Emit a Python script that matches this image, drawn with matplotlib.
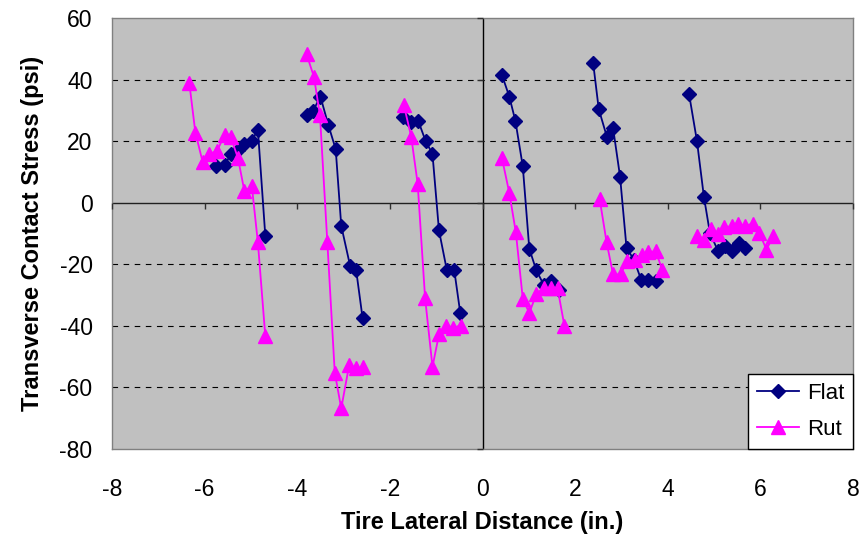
import numpy as np
import matplotlib
matplotlib.use("Agg")
import matplotlib.pyplot as plt

plt.rcParams['font.family'] = ['Liberation Sans', 'DejaVu Sans']
plt.rcParams['axes.unicode_minus'] = False

nan = np.nan
# Flat tire series (groups separated by NaN)
flat_x = [-5.75, -5.57, -5.43, -5.28, -5.14, -4.98, -4.85, -4.69, nan,
          -3.80, -3.66, -3.50, -3.33, -3.17, -3.05, -2.86, -2.73, -2.59, nan,
          -1.71, -1.54, -1.39, -1.23, -1.08, -0.94, -0.77, -0.61, -0.48, nan,
          0.42, 0.58, 0.71, 0.87, 1.01, 1.16, 1.32, 1.47, 1.65, nan,
          2.39, 2.51, 2.69, 2.82, 2.97, 3.11, 3.27, 3.43, 3.58, 3.74, nan,
          4.46, 4.63, 4.78, 4.91, 5.09, 5.24, 5.38, 5.53, 5.67]
flat_y = [11.8, 12.2, 15.8, 17.0, 19.1, 20.2, 23.7, -10.7, nan,
          28.5, 29.8, 34.5, 25.3, 17.4, -7.5, -20.4, -21.7, -37.4, nan,
          27.8, 26.3, 26.7, 20.1, 15.8, -9.0, -21.9, -21.9, -35.8, nan,
          41.5, 34.4, 26.6, 11.8, -14.9, -21.9, -26.6, -25.5, -28.2, nan,
          45.3, 30.4, 21.2, 24.2, 8.5, -14.7, -18.5, -25.2, -25.2, -25.5, nan,
          35.3, 20.1, 2.0, -9.8, -15.8, -13.9, -15.8, -13.1, -14.7]

# Rut series
rut_x = [-6.33, -6.20, -6.04, -5.90, -5.73, -5.57, -5.44, -5.28, -5.14, -4.98, -4.85, -4.69, nan,
         -3.80, -3.64, -3.51, -3.35, -3.19, -3.05, -2.88, -2.73, -2.58, nan,
         -1.70, -1.54, -1.40, -1.24, -1.08, -0.94, -0.79, -0.63, -0.47, nan,
         0.42, 0.58, 0.72, 0.87, 1.01, 1.16, 1.32, 1.47, 1.62, 1.77, nan,
         2.53, 2.68, 2.82, 2.98, 3.12, 3.29, 3.45, 3.58, 3.74, 3.88, nan,
         4.63, 4.78, 4.93, 5.09, 5.22, 5.38, 5.52, 5.67, 5.83, 5.98, 6.13, 6.28]
rut_y = [38.8, 22.8, 13.1, 15.8, 16.9, 22.0, 21.5, 14.5, 3.7, 5.3, -12.9, -43.3, nan,
         48.3, 40.9, 28.5, -12.9, -55.2, -66.8, -52.8, -53.8, -53.4, nan,
         31.8, 21.5, 6.2, -30.9, -53.3, -42.8, -40.1, -40.6, -39.9, nan,
         14.5, 3.1, -9.6, -31.2, -35.8, -29.8, -27.7, -27.7, -27.7, -40.1, nan,
         1.2, -12.9, -23.3, -23.3, -19.0, -18.5, -16.9, -16.0, -15.8, -21.7, nan,
         -10.7, -12.0, -8.7, -10.1, -7.9, -7.7, -6.8, -7.5, -6.8, -9.8, -15.2, -10.9]

x_ticks = [-8, -6, -4, -2, 0, 2, 4, 6, 8]
y_ticks = [-80, -60, -40, -20, 0, 20, 40, 60]

fig = plt.figure(figsize=(8.67, 5.39), dpi=100)
rect = [112/867, (539-449)/539, 741/867, 431/539]
ax = fig.add_axes(rect)
ax.set_facecolor('#C0C0C0')
for s in ax.spines.values():
    s.set_color('#808080')
    s.set_linewidth(1.0)

ax.set_xlim(-8, 8)
ax.set_ylim(-80, 60)
ax.set_xticks(x_ticks)
ax.set_yticks(y_ticks)
ax.tick_params(axis='both', length=0, labelsize=16.5)
ax.tick_params(axis='x', pad=21)
ax.tick_params(axis='y', pad=14)

for yv in [40, 20, -20, -40, -60]:
    ax.axhline(yv, color='black', lw=0.8, linestyle=(0, (5, 5)), zorder=1)

ax.axhline(0, color='#202020', lw=1.0, zorder=1)
ax.axvline(0, color='black', lw=1.0, zorder=1)

# tick marks on the zero axes via an overlay axes
ax2 = fig.add_axes(rect, sharex=ax, sharey=ax)
ax2.patch.set_visible(False)
for k in ['top', 'right']:
    ax2.spines[k].set_visible(False)
ax2.spines['left'].set_position(('data', 0))
ax2.spines['bottom'].set_position(('data', 0))
ax2.spines['left'].set_visible(False)
ax2.spines['bottom'].set_visible(False)
ax2.tick_params(axis='both', direction='out', length=4, width=1, color='#303030',
                labelbottom=False, labelleft=False)

ax.plot(flat_x, flat_y, color='#000080', lw=1.3, marker='D', markersize=7.5,
        markerfacecolor='#000080', markeredgecolor='#000080', label='Flat', zorder=3)
ax.plot(rut_x, rut_y, color='#FF00FF', lw=1.3, marker='^', markersize=9.5,
        markerfacecolor='#FF00FF', markeredgecolor='#FF00FF', label='Rut', zorder=4)

ax.set_xlabel('Tire Lateral Distance (in.)', fontsize=17, fontweight='bold')
ax.set_ylabel('Transverse Contact Stress (psi)', fontsize=17, fontweight='bold')
ax.xaxis.set_label_coords(0.5, -0.143)
ax.yaxis.set_label_coords(-0.092, 0.5)

leg = ax.legend(loc='lower right', bbox_to_anchor=(1, 0), borderaxespad=0,
                fancybox=False, framealpha=1, edgecolor='black', fontsize=16,
                handlelength=1.9, handletextpad=0.35, borderpad=0.4, labelspacing=0.7)
leg.get_frame().set_linewidth(1.0)
leg.set_zorder(10)

fig.savefig('out.png', dpi=100)
